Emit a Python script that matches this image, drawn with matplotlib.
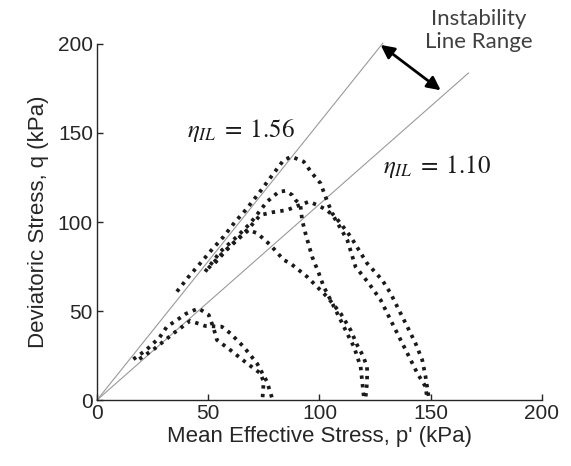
import numpy as np
import matplotlib
matplotlib.use('Agg')
import matplotlib.pyplot as plt

plt.rcParams['font.family'] = ['Liberation Sans', 'DejaVu Sans']
plt.rcParams['mathtext.fontset'] = 'stix'

# stress paths (p', q)
pA = [16.3, 22, 28, 31.4, 36, 40, 45.6, 50.2, 52.4, 53.9, 59.9, 67.4, 73.4, 74.9, 74.4]
qA = [22.9, 28, 35, 41.2, 45, 48.5, 51.5, 47.8, 40.3, 33.7, 28.1, 20.6, 15, 10.3, 1]

pB = [19, 26, 34.4, 41.9, 48.6, 56.1, 59.9, 65.9, 71.9, 76.4, 78.7]
qB = [23, 29, 37.5, 44.5, 41.6, 41.2, 37.5, 29.9, 20.6, 10.3, 1]

pC = [35.9, 41, 46.4, 51.5, 56.9, 62, 67, 72.7, 78, 83.9, 87.5, 92.9, 96.7, 100.5,
      102.7, 105.7, 109.5, 114, 117.7, 121.4, 128.2, 132, 135.7, 139.5, 143.2,
      146.2, 147.7, 149.2]
qC = [60.9, 69, 76.8, 84.3, 91.8, 100, 107, 116.1, 125, 134.8, 136.7, 133.9, 127.3,
      121.7, 114.2, 104.9, 99.2, 91.8, 84.3, 76.8, 67.4, 59.9, 50.6, 41.2, 31.8,
      22.5, 13.1, 1]

pD = [50, 56, 62, 68.2, 73.4, 79, 85.4, 90, 95.2, 98.9, 103.4, 106.4, 109.5, 112.5,
      116.2, 122.2, 127.5, 132, 136.5, 140.3, 144, 147.7, 148.4]
qD = [74, 82, 89, 96.4, 103.9, 105.5, 106.7, 109, 111.4, 109.6, 106.7, 103, 96.4,
      89.9, 74.9, 65.5, 56.2, 44.9, 33.7, 24.3, 15, 7.5, 1]

pE = [48.6, 55.4, 62.9, 68.9, 76.4, 81.7, 84.7, 87.7, 89.2, 91.4, 92.2, 93.7, 96.7,
      99.7, 101.9, 105, 109.5, 113, 115.5, 118.5, 120]
qE = [72.1, 83.3, 91.8, 99.3, 111.4, 117, 117.5, 115.2, 112.4, 109.6, 101.1, 93.6,
      80.5, 71.2, 63.7, 56.2, 44.9, 36, 29.9, 18.7, 1]

pF = [53, 58, 63, 68.2, 72.1, 77.9, 83.9, 86.9, 94.4, 103.4, 109.5, 114, 116.9,
      119.5, 121.4, 121.4, 120.7]
qF = [77, 84, 90, 95.5, 93.6, 87.1, 78.7, 76.8, 69.3, 58, 48.7, 39.3, 31, 25,
      18.7, 10, 1]

paths = [(pA, qA), (pB, qB), (pC, qC), (pD, qD), (pE, qE), (pF, qF)]

# instability lines
eta_hi, eta_lo = 1.56, 1.10
p_hi_end, p_lo_end = 128.5, 167.0

fig = plt.figure(figsize=(5.71, 4.66), dpi=100)
ax = fig.add_axes([0.170, 0.1416, 0.779, 0.764])

ph = np.array([0, p_hi_end])
pl = np.array([0, p_lo_end])
ax.plot(ph, eta_hi * ph, color='#9a9a9a', lw=0.8, clip_on=False)
ax.plot(pl, eta_lo * pl, color='#9a9a9a', lw=0.8, clip_on=False)

for p, q in paths:
    line, = ax.plot(p, q, color='#1a1a1a', lw=2.7, linestyle=(0, (0.9, 1.4)))
    line.set_dash_capstyle('butt')

ax.text(64.5, 151.5, r'$\eta_{IL}\;=\;1.56$', fontsize=18, ha='center',
        va='center', color='#1a1a1a')
ax.text(153, 131, r'$\eta_{IL}\;=\;1.10$', fontsize=18, ha='center',
        va='center', color='#1a1a1a')
ax.text(171.5, 207.8, 'Instability\nLine Range', fontsize=16, ha='center',
        va='center', color='#404040', family=['Lato', 'DejaVu Sans'],
        linespacing=1.2)
ax.annotate('', xy=(154.5, 174), xytext=(127.5, 199.5),
            arrowprops=dict(arrowstyle='<|-|>', color='black', lw=2,
                            mutation_scale=20, shrinkA=0, shrinkB=0),
            annotation_clip=False)

ax.set_xlim(0, 200)
ax.set_ylim(0, 200)
ax.set_xticks([0, 50, 100, 150, 200])
ax.set_yticks([0, 50, 100, 150, 200])
ax.spines['top'].set_visible(False)
ax.spines['right'].set_visible(False)
for s in ['left', 'bottom']:
    ax.spines[s].set_linewidth(1.0)
    ax.spines[s].set_color('#262626')
ax.tick_params(direction='in', length=4, width=1, labelsize=15,
               colors='#262626', pad=3)
ax.set_xlabel("Mean Effective Stress, p' (kPa)", fontsize=16, color='#262626',
              labelpad=2)
ax.set_ylabel('Deviatoric Stress, q (kPa)', fontsize=16, color='#262626',
              labelpad=6)

fig.savefig('out.png', dpi=100)
